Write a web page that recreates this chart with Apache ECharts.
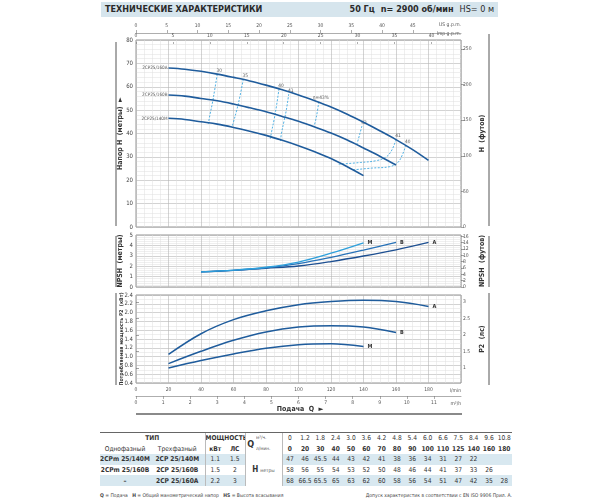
<!DOCTYPE html>
<html>
<head>
<meta charset="utf-8">
<script src="https://cdn.jsdelivr.net/npm/echarts@6/dist/echarts.min.js"></script>
<style>
body{margin:0;background:#fff;}
#wrap{position:relative;width:600px;height:500px;overflow:hidden;font-family:'Liberation Sans Narrow','DejaVu Sans Condensed','Liberation Sans',sans-serif;color:#333;}
#chart{position:absolute;left:0;top:0;width:600px;height:425px;}
.band{position:absolute;left:101px;top:2px;width:397px;height:15px;background:#d6e5ed;}
.band .l{position:absolute;left:4px;top:2px;font-size:9px;font-weight:bold;color:#2a2a2a;}
.band .r{position:absolute;right:4px;top:2px;font-size:9px;color:#2a2a2a;}
.band .r b{margin-right:6px;}
#tbl{position:absolute;left:100px;top:432px;width:412px;border-collapse:collapse;table-layout:fixed;font-size:6.6px;}
#tbl td{height:10.6px;padding:0;text-align:center;white-space:nowrap;overflow:hidden;line-height:10px;}
#tbl tr.first td{border-top:1px solid #666;}
#tbl tr.blue td.c{background:#d8e8f0;}
#tbl .sep{border-left:1px solid #bbb;}
#tbl .u{font-size:4.8px;color:#555;}
.foot{position:absolute;top:492px;font-size:5px;color:#444;}
</style>
</head>
<body>
<div id="wrap">
  <div id="chart"></div>
  <div class="band"><span class="l">ТЕХНИЧЕСКИЕ ХАРАКТЕРИСТИКИ</span><span class="r"><b>50 Гц</b><b>n= 2900 об/мин</b>HS= 0 м</span></div>
  <table id="tbl"></table>
  <div class="foot" style="left:100px;"><b>Q</b> = Подача &nbsp; <b>H</b> = Общий манометрический напор &nbsp; <b>HS</b> = Высота всасывания</div>
  <div class="foot" style="right:88px;">Допуск характеристик в соответствии с EN ISO 9906 Прил. A.</div>
</div>
<script>
// напор H (м) по подаче Q (л/мин)
var qA = [20,30,40,50,60,70,80,90,100,110,120,130,140,150,160,170,180];
var hA = [68,67.5,66.6,65.4,64,62.5,60.7,58.7,56.5,54,51.3,48.2,44.8,41.2,37.4,33.2,28.5];
var qB = [20,30,40,50,60,70,80,90,100,110,120,130,140,150,160];
var hB = [56.5,56,55,54,52.6,51,49.3,47.3,45.2,42.8,40.2,37.2,33.8,30.3,26.5];
var qM = [20,30,40,50,60,70,80,90,100,110,120,130,140];
var hM = [46.5,46,45,44,42.6,41,39.2,37.1,34.8,32.2,29.3,25.8,22];
var curveNames = ['2CP25/160A','2CP25/160B','2CP25/140M'];

// линии КПД (Q, H)
var effLabels = ['30','35','40','41','η=43%','43','41','40'];
var effQ = [
  [50,48.5,47,45.5,44.5],
  [66,64,62,60,59],
  [88,86.5,85,83.5,82.7],
  [94,92.5,91,89.5,88.8],
  [112.5,111.5,110.5,109.5],
  [139,138,137,136],
  [160,157.5,154,148,138,124],
  [166,164,161,156,145,133]
];
var effH = [
  [65.4,59,53,48,44.1],
  [63.2,56,50,45,42.7],
  [59.1,52,46,41,37.8],
  [56.9,50,45,40,36.2],
  [53.6,49,45.5,42.9],
  [43.2,40.5,38,35.5],
  [37.4,33,30,28.4,27.6,26.8],
  [35,31,27.5,25.8,25.2,24.4]
];

// NPSH (м)
var qNpshA = [40,60,80,100,120,140,160,180];
var npshA = [1.45,1.6,1.8,2.02,2.45,2.98,3.58,4.3];
var qNpshB = [40,60,80,100,120,140,160];
var npshB = [1.45,1.6,1.85,2.25,2.85,3.55,4.3];
var qNpshM = [40,60,80,100,120,140];
var npshM = [1.45,1.62,1.9,2.4,3.25,4.25];

// мощность P2 (кВт)
var qP2A = [20,40,60,80,100,120,140,160,180];
var p2A = [1.05,1.52,1.84,2.04,2.18,2.25,2.28,2.25,2.14];
var qP2B = [20,40,60,80,100,120,140,160];
var p2B = [0.84,1.12,1.37,1.56,1.67,1.7,1.67,1.55];
var qP2M = [20,40,60,80,100,120,140];
var p2M = [0.74,0.91,1.06,1.19,1.27,1.29,1.23];

// деления вспомогательных шкал
var usTicks = [0,5,10,15,20,25,30,35,40,45];
var impTicks = [0,5,10,15,20,25,30,35,40];
var lpmTicks = [0,20,40,60,80,100,120,140,160,180];
var m3hTicks = [0,1,2,3,4,5,6,7,8,9,10,11];
var ftTicks = [0,50,100,150,200,250];
var npshFtTicks = [0,2,4,6,8,10,12,14,16];
var hpTicks = [1,1.5,2,2.5,3];

// таблица
var tabQm3 = ['0','1.2','1.8','2.4','3.0','3.6','4.2','4.8','5.4','6.0','6.6','7.5','8.4','9.6','10.8'];
var tabQl = [0,20,30,40,50,60,70,80,90,100,110,125,140,160,180];
var tabType1 = ['2CPm 25/140M','2CPm 25/160B','–'];
var tabType3 = ['2CP 25/140M','2CP 25/160B','2CP 25/160A'];
var tabKw = ['1.1','1.5','2.2'];
var tabHp = ['1.5','2','3'];
var tabH = [
  ['47','46','45.5','44','43','42','41','38','36','34','31','27','22'],
  ['58','56','55','54','53','52','50','48','46','44','41','37','33','26'],
  ['68','66.5','65.5','65','63','62','60','58','56','54','51','47','42','35','28']
];

var FONT = "'Liberation Sans Narrow','DejaVu Sans Condensed','Liberation Sans',sans-serif";
var DARK = '#1f5c9c';

function pts(q, v) {
  return q.map(function (x, i) { return [x, v[i]]; });
}

// строим таблицу
function buildTable() {
  var h = '<colgroup><col style="width:50px"><col style="width:55px"><col style="width:20px"><col style="width:20px"><col style="width:11px"><col style="width:26px">';
  for (var i = 0; i < 15; i++) h += '<col style="width:15.33px">';
  h += '</colgroup>';
  h += '<tr class="first"><td colspan="2"><b>ТИП</b></td><td colspan="2" class="sep"><b>МОЩНОСТЬ</b></td>' +
       '<td rowspan="2" class="sep" style="font-size:9px;font-weight:bold;">Q</td><td class="u" style="text-align:left">м³/ч.</td>';
  tabQm3.forEach(function (v, i) { h += '<td' + (i == 0 ? ' class="sep"' : '') + '>' + v + '</td>'; });
  h += '</tr><tr><td>Однофазный</td><td>Трехфазный</td><td class="sep"><b>кВт</b></td><td><b>ЛС</b></td><td class="u" style="text-align:left">л/мин.</td>';
  tabQl.forEach(function (v, i) { h += '<td' + (i == 0 ? ' class="sep"' : '') + '><b>' + v + '</b></td>'; });
  h += '</tr>';
  for (var r = 0; r < 3; r++) {
    h += '<tr' + (r != 1 ? ' class="blue"' : '') + '><td class="c"><b>' + tabType1[r] + '</b></td><td class="c"><b>' + tabType3[r] + '</b></td>' +
         '<td class="c sep">' + tabKw[r] + '</td><td class="c">' + tabHp[r] + '</td>';
    if (r == 0) h += '<td colspan="2" rowspan="3" class="sep"><b style="font-size:8px">H</b> <span class="u">метры</span></td>';
    for (var k = 0; k < 15; k++) {
      h += '<td class="c' + (k == 0 ? ' sep' : '') + '">' + (tabH[r][k] || '') + '</td>';
    }
    h += '</tr>';
  }
  document.getElementById('tbl').innerHTML = h;
}
buildTable();

var gridLine = {show: true, lineStyle: {color: '#b5b5b5', width: 0.6}};
var minorLine = {show: true, lineStyle: {color: '#dedede', width: 0.5}};
var lbl = {fontSize: 6, color: '#444', fontFamily: FONT};
var smallLbl = {fontSize: 5, color: '#555', fontFamily: FONT};
var nameStyle = {fontSize: 7, fontWeight: 'bold', color: '#333', fontFamily: FONT};
var tickLine = {color: '#777', width: 0.6};

function baseX(grid) {
  return {
    type: 'value', gridIndex: grid, min: 0, max: 200, interval: 20,
    axisLine: {show: false}, axisTick: {show: false}, axisLabel: {show: false},
    splitLine: gridLine, minorTick: {show: false, splitNumber: 4}, minorSplitLine: minorLine
  };
}

// шкала расхода в других единицах (только подписи и засечки)
function unitX(grid, pos, max, ticks, margin, line) {
  return {
    type: 'value', gridIndex: grid, position: pos, min: 0, max: max,
    axisLine: {show: line, lineStyle: tickLine},
    axisTick: {show: true, length: line ? 3 : 2, lineStyle: tickLine, customValues: ticks},
    axisLabel: Object.assign({margin: margin, customValues: ticks}, smallLbl),
    splitLine: {show: false}
  };
}

function hiddenY(grid) {
  return {type: 'value', gridIndex: grid, min: 0, max: 1, axisLine: {show: false}, axisTick: {show: false},
    axisLabel: {show: false}, splitLine: {show: false}};
}

function leftAxis(grid, min, max, step, minor, name, fmt) {
  return {
    type: 'value', gridIndex: grid, min: min, max: max, interval: step,
    axisLine: {show: false}, axisTick: {show: false},
    axisLabel: Object.assign({margin: 3, formatter: fmt}, lbl),
    splitLine: gridLine, minorTick: {show: false, splitNumber: minor}, minorSplitLine: minorLine,
    name: name, nameLocation: 'middle', nameGap: 12, nameRotate: 90, nameMoveOverlap: false,
    nameTextStyle: nameStyle
  };
}

function rightAxis(grid, max, ticks, name, min) {
  return {
    type: 'value', gridIndex: grid, position: 'right', min: min || 0, max: max,
    axisLine: {show: false}, splitLine: {show: false},
    axisTick: {show: true, length: 3, lineStyle: {color: '#666', width: 0.6}, customValues: ticks},
    axisLabel: Object.assign({margin: 2, customValues: ticks}, smallLbl),
    name: name, nameLocation: 'middle', nameGap: 18, nameRotate: 90, nameMoveOverlap: false,
    nameTextStyle: nameStyle
  };
}

// 0: Q сетка H, 1: Q сетка NPSH, 2: Q л/мин (P2), 3: м³/ч, 4: US gpm, 5: Imp gpm
var xAxes = [
  baseX(0),
  baseX(1),
  Object.assign(baseX(2), {
    axisLabel: Object.assign({show: true, margin: 4, customValues: lpmTicks}, smallLbl),
    name: 'l/min', nameLocation: 'end', nameGap: 0,
    nameTextStyle: {fontSize: 5, color: '#555', fontFamily: FONT, align: 'right', verticalAlign: 'top', padding: [5, 0, 0, 0]}
  }),
  Object.assign(unitX(2, 'bottom', 12, m3hTicks, 4, true), {
    offset: 13, name: 'm³/h', nameLocation: 'end', nameGap: 0,
    nameTextStyle: {fontSize: 5, color: '#555', fontFamily: FONT, align: 'right', verticalAlign: 'top', padding: [5, 0, 0, 0]}
  }),
  unitX(3, 'top', 200 / 3.7854, usTicks, 1, true),
  unitX(4, 'top', 200 / 4.5461, impTicks, 2, false)
];

// 0: H, 1: футы, 2: NPSH, 3: NPSH футы, 4: P2 кВт, 5: P2 лс, 6-7: скрытые
var yAxes = [
  leftAxis(0, 0, 80, 10, 5, 'Напор H  (метры)  ►'),
  rightAxis(0, 80 / 0.3048, ftTicks, 'H  (футов)'),
  leftAxis(1, 0, 5, 1, 5, 'NPSH  (метры)'),
  rightAxis(1, 5 / 0.3048, npshFtTicks, 'NPSH  (футов)'),
  Object.assign(leftAxis(2, 0.4, 2.4, 0.2, 2, 'Потребляемая мощность P2  (кВт)', function (v) { return v.toFixed(1); }),
    {nameTextStyle: Object.assign({}, nameStyle, {fontSize: 5.2})}),
  rightAxis(2, 2.4 / 0.7457, hpTicks, 'P2  (лс)', 0.4 / 0.7457),
  hiddenY(3),
  hiddenY(4)
];

function curve(x, y, data, color, width, end) {
  var s = {
    type: 'line', xAxisIndex: x, yAxisIndex: y, data: data, smooth: 0.35,
    symbol: 'none', lineStyle: {color: color, width: width}, silent: true, z: 5
  };
  if (end) {
    s.endLabel = {show: true, formatter: end, fontSize: 5.5, fontWeight: 'bold', color: '#333', distance: 4, fontFamily: FONT};
  }
  return s;
}

var series = [
  curve(0, 0, pts(qA, hA), DARK, 1.6),
  curve(0, 0, pts(qB, hB), DARK, 1.6),
  curve(0, 0, pts(qM, hM), DARK, 1.6)
];

effQ.forEach(function (q, i) {
  series.push({
    type: 'line', xAxisIndex: 0, yAxisIndex: 0, data: pts(q, effH[i]), smooth: 0.4,
    symbol: 'none', silent: true, z: 4,
    lineStyle: {color: '#3ea8e0', width: 0.9, type: [2, 1.5]}
  });
});

// подписи кривых и КПД
series.push({
  type: 'scatter', xAxisIndex: 0, yAxisIndex: 0, symbolSize: 0, silent: true,
  data: [[qA[0], hA[0], curveNames[0]], [qB[0], hB[0], curveNames[1]], [qM[0], hM[0], curveNames[2]]],
  label: {show: true, position: 'left', distance: 1, fontSize: 4.6, color: '#333', fontFamily: FONT,
    formatter: function (p) { return p.value[2]; }}
});
series.push({
  type: 'scatter', xAxisIndex: 0, yAxisIndex: 0, symbolSize: 0, silent: true,
  data: effQ.map(function (q, i) { return [q[0], effH[i][0], effLabels[i]]; }),
  label: {show: true, position: 'top', distance: 1, fontSize: 4.8, color: '#333', fontFamily: FONT, offset: [2, 0],
    formatter: function (p) { return p.value[2]; }}
});

series.push(curve(1, 2, pts(qNpshA, npshA), '#1d4f91', 1.3, 'A'));
series.push(curve(1, 2, pts(qNpshB, npshB), '#2872b8', 1.3, 'B'));
series.push(curve(1, 2, pts(qNpshM, npshM), '#2ea0dc', 1.3, 'M'));

series.push(curve(2, 4, pts(qP2A, p2A), DARK, 1.5, 'A'));
series.push(curve(2, 4, pts(qP2B, p2B), DARK, 1.5, 'B'));
series.push(curve(2, 4, pts(qP2M, p2M), DARK, 1.5, 'M'));

var frame = {color: '#555', width: 1};
var unitText = {fill: '#555', align: 'right', verticalAlign: 'middle', font: '5px ' + FONT};
var option = {
  animation: false,
  textStyle: {fontFamily: FONT},
  grid: [
    {left: 136, top: 40, width: 325, height: 187, show: true, borderColor: '#7a7a7a', borderWidth: 0.8},
    {left: 136, top: 235, width: 325, height: 52, show: true, borderColor: '#7a7a7a', borderWidth: 0.8},
    {left: 136, top: 295, width: 325, height: 88, show: true, borderColor: '#7a7a7a', borderWidth: 0.8},
    {left: 136, top: 29, width: 325, height: 4},
    {left: 136, top: 40, width: 325, height: 4}
  ],
  xAxis: xAxes,
  yAxis: yAxes,
  series: series,
  graphic: [
    {type: 'line', shape: {x1: 116, y1: 42, x2: 116, y2: 226}, style: {stroke: frame.color, lineWidth: frame.width}},
    {type: 'line', shape: {x1: 116, y1: 236, x2: 116, y2: 287}, style: {stroke: frame.color, lineWidth: frame.width}},
    {type: 'line', shape: {x1: 116, y1: 293, x2: 116, y2: 385}, style: {stroke: frame.color, lineWidth: frame.width}},
    {type: 'line', shape: {x1: 489, y1: 34, x2: 489, y2: 226}, style: {stroke: frame.color, lineWidth: frame.width}},
    {type: 'line', shape: {x1: 489, y1: 236, x2: 489, y2: 287}, style: {stroke: frame.color, lineWidth: frame.width}},
    {type: 'line', shape: {x1: 489, y1: 293, x2: 489, y2: 385}, style: {stroke: frame.color, lineWidth: frame.width}},
    {type: 'line', shape: {x1: 136, y1: 414, x2: 462, y2: 414}, style: {stroke: '#8a8a8a', lineWidth: 2}},
    {type: 'text', x: 461, y: 25, style: Object.assign({text: 'US g.p.m.'}, unitText)},
    {type: 'text', x: 461, y: 34, style: Object.assign({text: 'Imp g.p.m.'}, unitText)},
    {type: 'text', x: 300, y: 409, style: {text: 'Подача  Q  ►', fill: '#333', align: 'center', verticalAlign: 'middle', font: 'bold 7px ' + FONT}}
  ]
};

var chart = echarts.init(document.getElementById('chart'), null, {renderer: 'canvas'});
chart.setOption(option);
</script>
</body>
</html>
